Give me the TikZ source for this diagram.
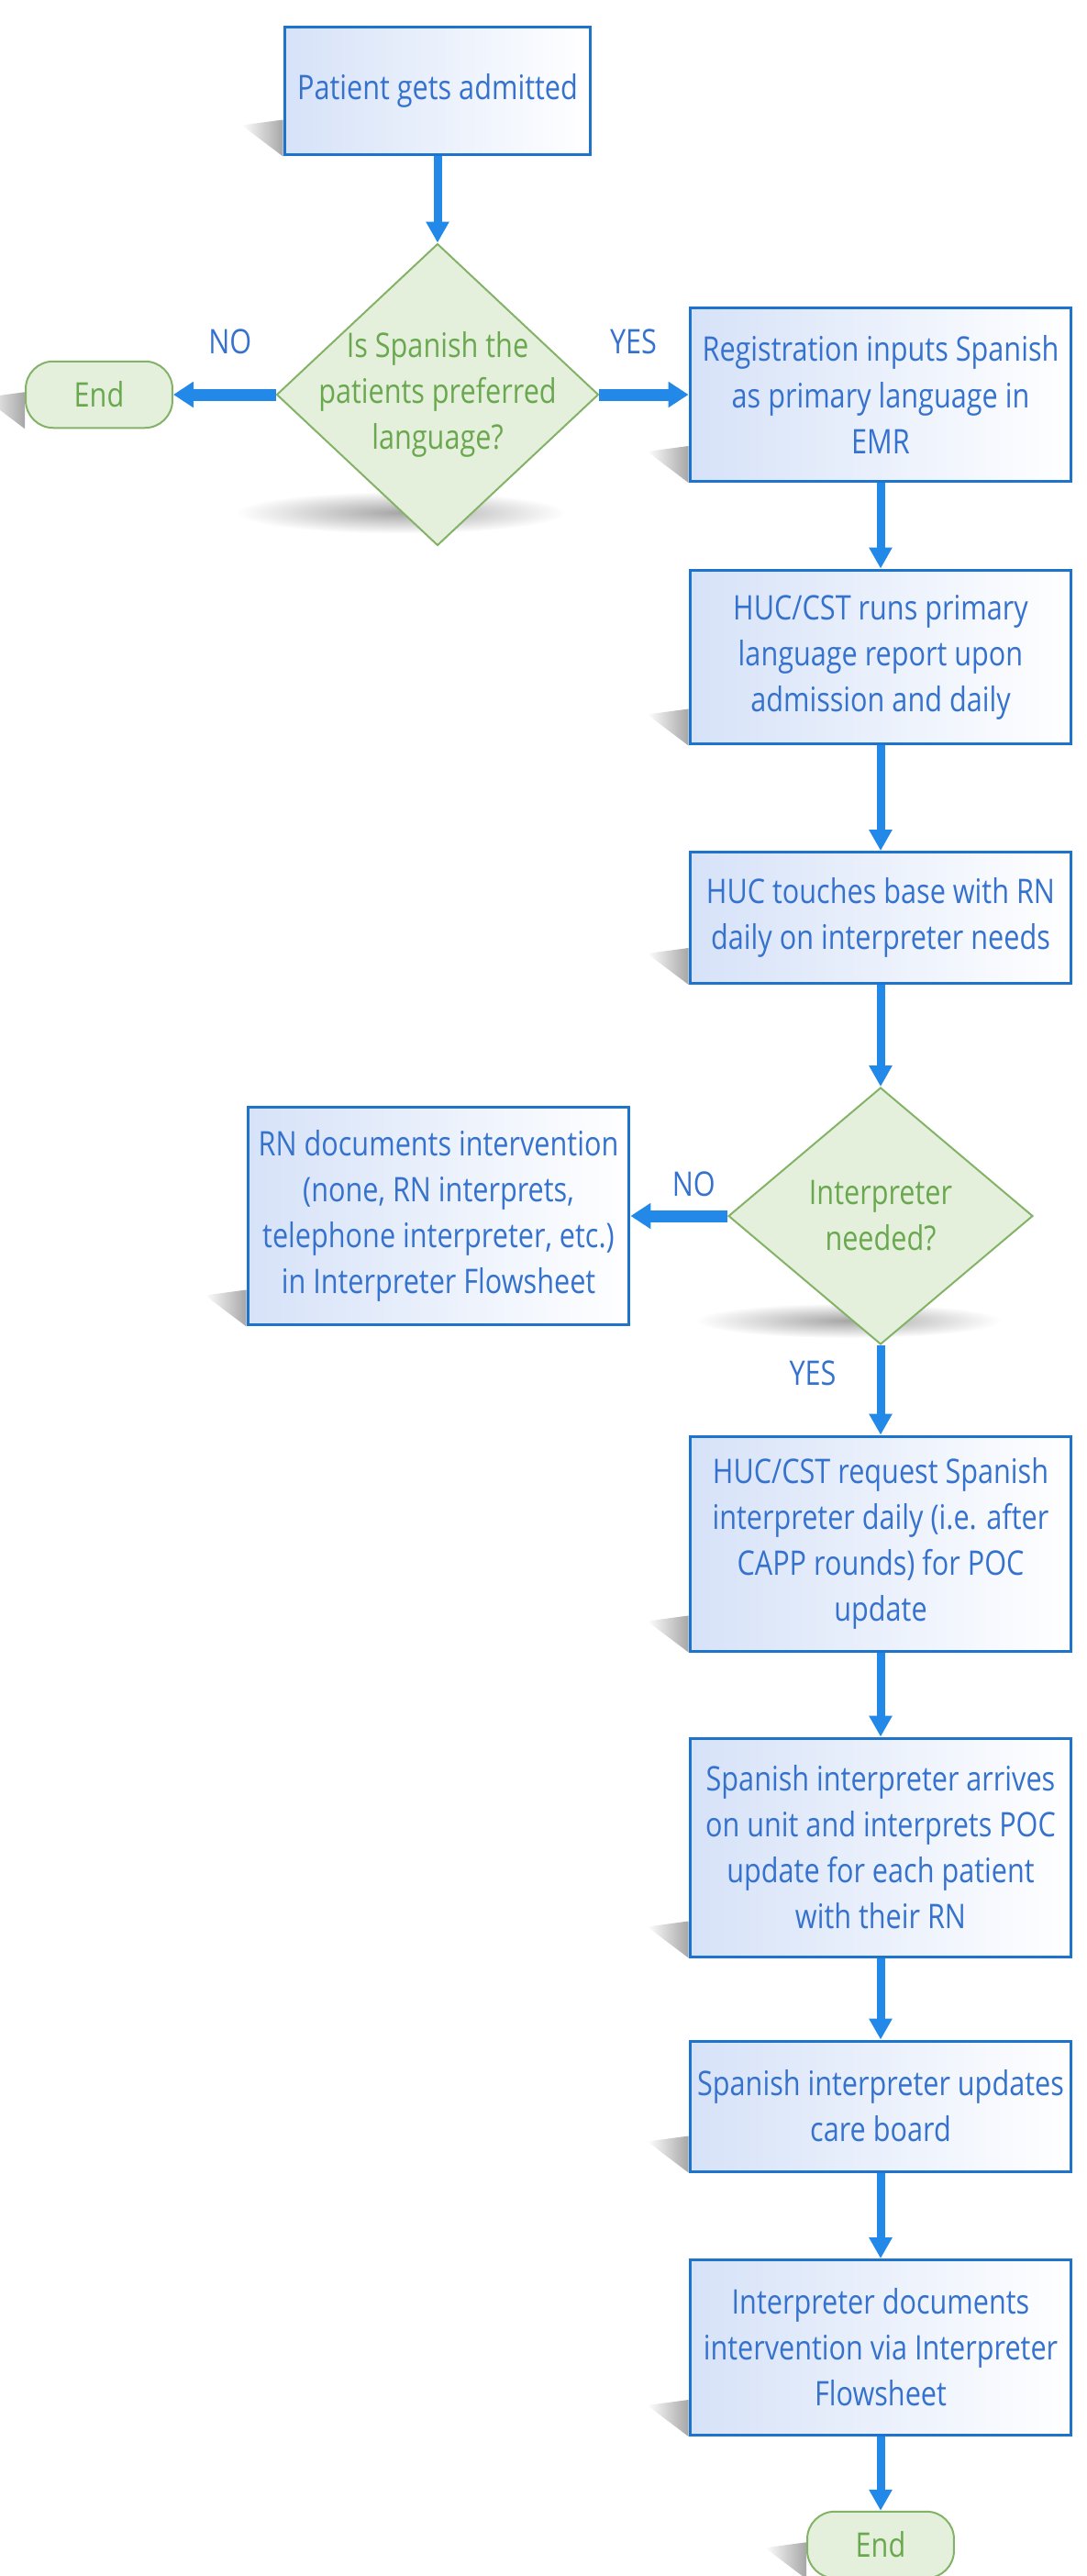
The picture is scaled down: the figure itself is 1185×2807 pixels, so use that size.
\documentclass[tikz,border=0pt]{standalone}
\usepackage{fontspec}
\setmainfont{Open Sans}[FakeStretch=0.83]
\usetikzlibrary{shapes.geometric,arrows.meta,backgrounds,calc}
\definecolor{boxline}{HTML}{1E73CD}
\definecolor{boxfill}{HTML}{D6E2F8}
\definecolor{boxtext}{HTML}{3572CE}
\definecolor{flowblue}{HTML}{2389E8}
\definecolor{decfill}{HTML}{E4F0DC}
\definecolor{decline}{HTML}{82B366}
\definecolor{dectext}{HTML}{6AA84F}

\begin{document}
\begin{tikzpicture}[x=0.02cm, y=-0.02cm, font=\fontsize{21}{28.5}\selectfont]

      \tikzset{process/.style={draw=boxline, line width=0.06cm, left color=boxfill, middle color=boxfill!35,
                 right color=white, text=boxtext, align=center, minimum width=8.32cm, inner sep=0pt},
               decision/.style={diamond, draw=decline, line width=0.04cm, fill=decfill, inner sep=0pt},
               dlabel/.style={text=dectext, align=center},
               terminal/.style={draw=decline, line width=0.04cm, fill=decfill, text=dectext,
                 rounded corners=0.6cm, minimum width=3.2cm, minimum height=1.45cm},
               flow/.style={flowblue, line width=0.18cm, -{Triangle[width=0.48cm, length=0.46cm]}},
               branch/.style={flow, line width=0.26cm, -{Triangle[width=0.54cm, length=0.44cm]}},
               answer/.style={text=boxtext}}
      \useasboundingbox (0,0) rectangle (1185,2807);
%% Steps
      	\node[process, minimum width=6.68cm, minimum height=2.8cm] (admit) at (477,99) {Patient gets admitted};
      	\node[decision, minimum width=7.02cm, minimum height=6.58cm] (spanish) at (477,430) {};
      	\node[dlabel] (spanishq) at (spanish) {Is Spanish the\\patients preferred\\language?};
      	\node[terminal] (end1) at (108,430) {End};
      	\node[process, minimum height=3.78cm] (reg) at (960,430) {Registration inputs Spanish\\as primary language in\\EMR};
      	\node[process, minimum height=3.8cm] (report) at (960,716) {HUC/CST runs primary\\language report upon\\admission and daily};
      	\node[process, minimum height=2.86cm] (touch) at (960,1000) {HUC touches base with RN\\daily on interpreter needs};
      	\node[decision, minimum width=6.64cm, minimum height=5.6cm] (needed) at (960,1325) {};
      	\node[dlabel] (neededq) at (needed) {Interpreter\\needed?};
      	\node[process, minimum height=4.76cm] (rndoc) at (478,1325) {RN documents intervention\\(none, RN interprets,\\telephone interpreter, etc.)\\in Interpreter Flowsheet};
      	\node[process, minimum height=4.68cm] (request) at (960,1682) {HUC/CST request Spanish\\interpreter daily (i.e. after\\CAPP rounds) for POC\\update};
      	\node[process, minimum height=4.76cm] (arrive) at (960,2013) {Spanish interpreter arrives\\on unit and interprets POC\\update for each patient\\with their RN};
      	\node[process, minimum height=2.84cm] (board) at (960,2295) {Spanish interpreter updates\\care board};
      	\node[process, minimum height=3.82cm] (idoc) at (960,2558) {Interpreter documents\\intervention via Interpreter\\Flowsheet};
      	\node[terminal] (end2) at (960,2773) {End};
%% Connectors
		\draw[flow] (admit) -- (spanish);
		\draw[branch] (spanish) -- node[answer, midway, xshift=0.12cm, yshift=1.16cm] (no1) {NO} (end1);
		\draw[branch] (spanish) -- node[answer, midway, xshift=-0.23cm, yshift=1.16cm] (yes1) {YES} (reg);
		\draw[flow] (reg) -- (report);
		\draw[flow] (report) -- (touch);
		\draw[flow] (touch) -- (needed);
		\draw[branch] (needed) -- node[answer, midway, xshift=0.32cm, yshift=0.7cm] (no2) {NO} (rndoc);
		\draw[flow] (needed) -- node[answer, midway, xshift=-1.48cm, yshift=0.36cm] (yes2) {YES} (request);
		\draw[flow] (request) -- (arrive);
		\draw[flow] (arrive) -- (board);
		\draw[flow] (board) -- (idoc);
		\draw[flow] (idoc) -- (end2);
%% Shadows
      \begin{scope}[on background layer]
        \foreach \n in {admit,reg,report,touch,rndoc,request,arrive,board,idoc,end1,end2}
          \shade[left color=white, right color=black!35] (\n.south west) -- ++(0,-40) -- ++(-45,6) -- cycle;
        \shade[inner color=black!35, outer color=white] ($(spanish.south)+(-40,-37)$) ellipse (3.6cm and 0.46cm);
        \shade[inner color=black!35, outer color=white] ($(needed.south)+(-35,-27)$) ellipse (3.34cm and 0.38cm);
      \end{scope}

\end{tikzpicture}
\end{document}
